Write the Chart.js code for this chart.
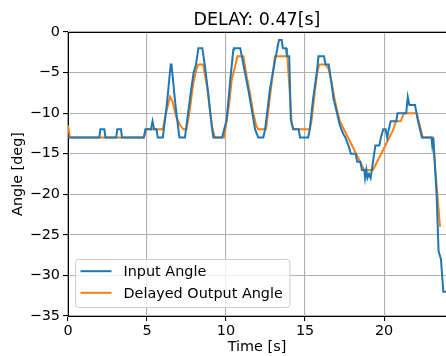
<!DOCTYPE html>
<html><head><meta charset="utf-8">
<script src="https://cdn.jsdelivr.net/npm/chart.js@4.4.1/dist/chart.umd.min.js"></script>
<style>html,body{margin:0;padding:0;background:#fff;}canvas{display:block;}</style>
</head><body>
<canvas id="c" width="446" height="356"></canvas>
<script>
const chartTitle = 'DELAY: 0.47[s]';
const xLabel = 'Time [s]';
const yLabel = 'Angle [deg]';
const seriesNames = ['Input Angle', 'Delayed Output Angle'];
const xTicks = [0, 5, 10, 15, 20];
const yTicks = [0, -5, -10, -15, -20, -25, -30, -35];

const inputTime = [0,1.98,2.05,2.3,2.37,3.05,3.12,3.35,3.42,4.8,4.9,5.25,5.35,5.45,5.6,5.68,6.0,6.25,6.5,6.55,6.8,7.05,7.4,7.6,7.8,7.95,8.1,8.25,8.5,8.65,8.9,9.1,9.2,9.75,10.04,10.25,10.46,10.5,10.9,11.0,11.1,11.4,11.63,11.84,12.04,12.36,12.47,12.6,12.78,13.1,13.25,13.35,13.52,13.6,13.8,13.85,14.0,14.1,14.26,14.6,14.68,15.2,15.3,15.5,15.75,15.85,16.2,16.3,16.5,16.65,16.8,17.0,17.2,17.4,17.55,17.75,17.9,18.2,18.3,18.5,18.6,18.75,18.8,18.88,18.95,19.05,19.15,19.3,19.45,19.7,19.8,19.95,20.1,20.2,20.3,20.42,20.78,20.85,21.4,21.5,21.6,21.96,22.15,22.4,23.0,23.05,23.12,23.33,23.45,23.6,23.75,23.92];
const inputAngle = [-13,-13,-12,-12,-13,-13,-12,-12,-13,-13,-12,-12,-11,-12,-12,-13,-13,-9,-4,-4,-9,-13,-13,-10,-7,-5,-4,-2,-2,-4,-8,-11.7,-13,-13,-10.8,-6.3,-2.2,-2,-2,-3,-4,-7,-9.6,-12,-13,-13,-12,-10,-7,-3.5,-2,-1,-1,-2,-2,-3,-3,-10.8,-12,-12,-13,-13,-12,-8.4,-4.9,-3,-3,-4,-4,-6,-8.2,-9.8,-11.5,-12.5,-13,-14,-15,-15,-16,-16,-17,-17,-18,-17,-18,-17.5,-18,-16,-14,-14,-13,-12,-12,-13,-12,-11,-11,-10,-10,-8,-9,-9,-11,-13,-13,-14,-13,-20.3,-27,-28,-32,-32];

const outputTime = [0,0.12,4.8,4.95,6.0,6.2,6.45,6.6,6.85,7.1,7.3,7.5,7.72,7.93,8.14,8.25,8.55,8.8,9.0,9.15,9.3,9.87,10.15,10.36,10.57,10.72,11.1,11.31,11.52,11.73,11.9,12.04,12.53,12.78,12.99,13.1,13.88,14.05,14.15,14.26,15.3,15.42,15.63,15.78,15.9,16.27,16.48,16.69,16.9,17.05,17.2,18.75,19.3,20.57,20.75,21.05,21.25,22.07,22.45,23.08,23.54];
const outputAngle = [-11.5,-13,-13,-12,-12,-10,-8,-8.5,-10.5,-11.5,-12,-12,-9.4,-6.3,-4.5,-4,-4,-6.7,-10,-12,-13,-13,-9.6,-5.9,-4.3,-3,-3,-5.5,-7.6,-10,-11.5,-12,-12,-8,-4.7,-3,-3,-8,-11.3,-12,-12,-10.8,-7.1,-4.9,-4,-4,-4.5,-6.3,-8.6,-9.8,-11,-17,-17,-12.1,-11,-11,-10,-10,-13,-13,-24];

const FONT = 'DejaVu Sans';
Chart.defaults.font.family = FONT;
Chart.defaults.color = '#000';

const fmt = v => (v < 0 ? '\u2212' + Math.abs(v) : String(v));

const spines = {
  id: 'spines',
  afterDraw(chart) {
    const {ctx, chartArea: a} = chart;
    ctx.save();
    ctx.strokeStyle = '#000';
    ctx.lineWidth = 1;
    ctx.beginPath();
    ctx.moveTo(a.left, a.top + 0.5);
    ctx.lineTo(a.right, a.top + 0.5);
    ctx.stroke();
    ctx.restore();
  }
};

const boxLegend = {
  id: 'boxLegend',
  afterDraw(chart) {
    const {ctx, chartArea: a} = chart;
    const ds = chart.data.datasets;
    ctx.save();
    ctx.font = '14.4px "' + FONT + '"';
    const tw = Math.max(...ds.map(d => ctx.measureText(d.label).width));
    const x0 = a.left + 7.5, w = 48 + tw + 7, rowH = 21.6, h = 48;
    const y0 = a.bottom - 8.5 - h;
    const r = 3;
    ctx.beginPath();
    ctx.moveTo(x0 + r, y0);
    ctx.lineTo(x0 + w - r, y0); ctx.quadraticCurveTo(x0 + w, y0, x0 + w, y0 + r);
    ctx.lineTo(x0 + w, y0 + h - r); ctx.quadraticCurveTo(x0 + w, y0 + h, x0 + w - r, y0 + h);
    ctx.lineTo(x0 + r, y0 + h); ctx.quadraticCurveTo(x0, y0 + h, x0, y0 + h - r);
    ctx.lineTo(x0, y0 + r); ctx.quadraticCurveTo(x0, y0, x0 + r, y0);
    ctx.closePath();
    ctx.fillStyle = 'rgba(255,255,255,0.8)';
    ctx.fill();
    ctx.strokeStyle = '#cccccc';
    ctx.lineWidth = 1;
    ctx.stroke();
    ds.forEach((d, i) => {
      const cy = y0 + 11.7 + i * rowH;
      ctx.strokeStyle = d.borderColor;
      ctx.lineWidth = 2;
      ctx.beginPath();
      ctx.moveTo(x0 + 5, cy); ctx.lineTo(x0 + 36, cy);
      ctx.stroke();
      ctx.fillStyle = '#000';
      ctx.textBaseline = 'middle';
      ctx.textAlign = 'left';
      ctx.fillText(d.label, x0 + 48, cy + 1);
    });
    ctx.restore();
  }
};

new Chart(document.getElementById('c'), {
  type: 'line',
  data: {
    datasets: [
      {label: seriesNames[0], data: inputTime.map((t, i) => ({x: t, y: inputAngle[i]})),
       borderColor: '#1f77b4', borderWidth: 2, pointRadius: 0, tension: 0, fill: false},
      {label: seriesNames[1], data: outputTime.map((t, i) => ({x: t, y: outputAngle[i]})),
       borderColor: '#ff7f0e', borderWidth: 2, pointRadius: 0, tension: 0, fill: false}
    ]
  },
  options: {
    responsive: false,
    animation: false,
    events: [],
    layout: {padding: {left: 0, right: 0, top: 0, bottom: 0}},
    plugins: {
      legend: {display: false},
      tooltip: {enabled: false},
      title: {display: true, text: chartTitle, fullSize: false, color: '#000',
              font: {size: 17.5, weight: 'normal', family: FONT}, padding: {top: 10, bottom: 1}}
    },
    scales: {
      x: {
        type: 'linear', min: 0, max: 23.92,
        afterBuildTicks: s => { s.ticks = xTicks.map(v => ({value: v})); },
        ticks: {includeBounds: false, color: '#000', font: {size: 14.4}, padding: 2, maxRotation: 0, autoSkip: false, callback: fmt},
        grid: {color: '#b0b0b0', lineWidth: 1.1, tickLength: 5, tickColor: '#000'},
        border: {color: '#000', width: 1},
        title: {display: true, text: xLabel, color: '#000', font: {size: 14.4}, padding: {top: 0, bottom: 0}},
        afterFit: s => { s.height = 40; }
      },
      y: {
        type: 'linear', min: -35, max: 0,
        afterBuildTicks: s => { s.ticks = yTicks.map(v => ({value: v})); },
        ticks: {color: '#000', font: {size: 14.4}, padding: 3, autoSkip: false, callback: fmt},
        grid: {color: '#b0b0b0', lineWidth: 1.1, tickLength: 5, tickColor: '#000'},
        border: {color: '#000', width: 1},
        title: {display: true, text: yLabel, color: '#000', font: {size: 14.4}, padding: {top: 10, bottom: 0}},
        afterFit: s => { s.width = 68; }
      }
    }
  },
  plugins: [spines, boxLegend]
});
</script>
</body></html>
